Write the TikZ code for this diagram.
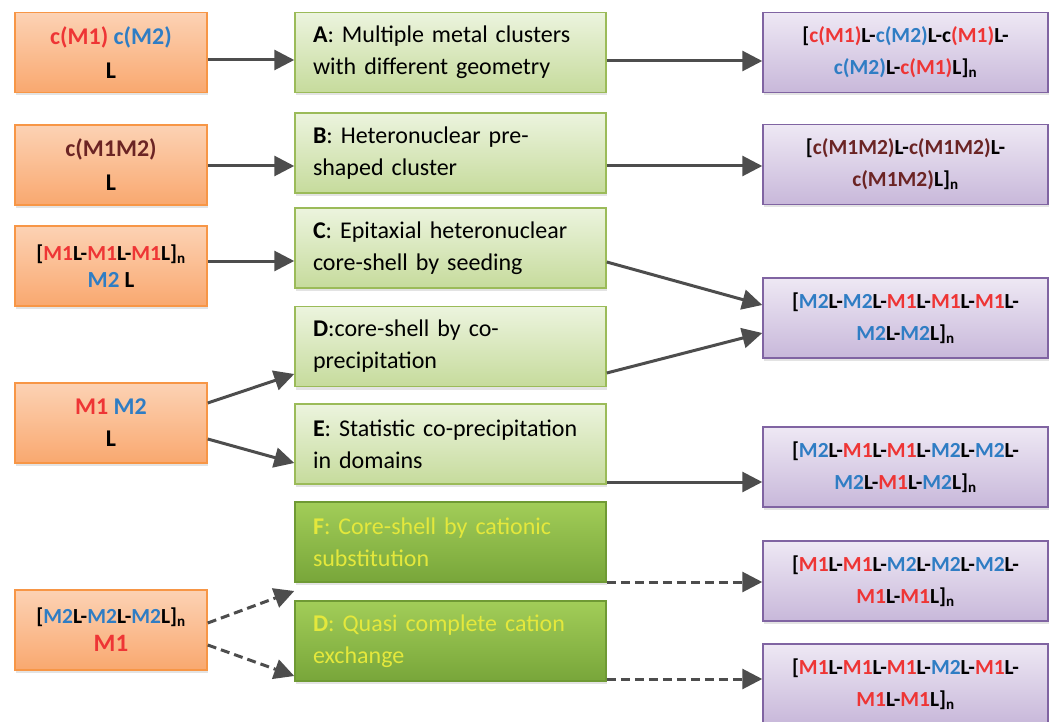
\documentclass[tikz,border=0pt]{standalone}
\usepackage{fontspec}
\setmainfont{Carlito}
\usetikzlibrary{arrows.meta,shadows}
\definecolor{mred}{HTML}{EE3535}
\definecolor{mblue}{HTML}{2F7DC4}
\definecolor{mbrown}{HTML}{6B2424}
\definecolor{fyel}{HTML}{E4E83C}
\definecolor{arr}{HTML}{4D4D4D}
\definecolor{orB}{HTML}{F79646}
\definecolor{orT}{HTML}{FCD2B4}
\definecolor{orD}{HTML}{F9A86F}
\definecolor{grB}{HTML}{9BBB59}
\definecolor{grT}{HTML}{ECF4DE}
\definecolor{grD}{HTML}{C6DB9C}
\definecolor{dgB}{HTML}{6F9A34}
\definecolor{dgT}{HTML}{A2CD58}
\definecolor{dgD}{HTML}{78A63A}
\definecolor{puB}{HTML}{8064A2}
\definecolor{puT}{HTML}{EEE8F4}
\definecolor{puD}{HTML}{C8B8DA}
\newcommand\rM{\textcolor{mred}{M1}}
\newcommand\bM{\textcolor{mblue}{M2}}
\newcommand\rC{\textcolor{mred}{c(M1)}}
\newcommand\bC{\textcolor{mblue}{c(M2)}}
\newcommand\brC{\textcolor{mbrown}{c(M1M2)}}
\newcommand\subn{\textsubscript{n}}
\tikzset{
  box/.style={draw, line width=1.5pt, minimum height=80pt, inner sep=0pt,
    drop shadow={shadow xshift=1pt,shadow yshift=-3pt,opacity=0.22}},
  srcbox/.style={box, draw=orB, top color=orT, bottom color=orD,
    minimum width=192pt, align=center, font=\bfseries\fontsize{24}{34}\selectfont},
  procbox/.style={box, draw=grB, top color=grT, bottom color=grD,
    minimum width=311pt, text width=275pt, inner xsep=18pt, align=left,
    font=\fontsize{24}{32}\selectfont},
  dprocbox/.style={procbox, draw=dgB, top color=dgT, bottom color=dgD, text=fyel},
  prodbox/.style={box, draw=puB, top color=puT, bottom color=puD,
    minimum width=285pt, align=center, font=\bfseries\fontsize{21.5}{32}\selectfont},
  conn/.style={draw=arr, line width=3pt, -{Triangle[length=20pt,width=20pt]}},
  dconn/.style={conn, dash pattern=on 9pt off 5pt}
}
\begin{document}
\begin{tikzpicture}[x=1pt,y=-1pt]
\useasboundingbox (0,0) rectangle (1049,722);
% sources
\node[srcbox] (L1) at (111,52.5) {\rC{} \bC\\L};
\node[srcbox] (L2) at (111,165) {\brC\\L};
\node[srcbox, font=\bfseries\fontsize{21.5}{27}\selectfont] (L3) at (111,266)
  {[\rM L-\rM L-\rM L]\subn\\{\fontsize{23}{27}\selectfont\bM{} L}};
\node[srcbox, font=\bfseries\fontsize{24}{32}\selectfont] (L4) at (111,423) {\rM{} \bM\\L};
\node[srcbox, font=\bfseries\fontsize{21.5}{28}\selectfont] (L5) at (111,630)
  {[\bM L-\bM L-\bM L]\subn\\{\fontsize{25}{28}\selectfont\rM}};
% processes
\node[procbox] (A) at (450.5,52.5) {\textbf{A}: Multiple metal clusters\\with different geometry};
\node[procbox] (B) at (450.5,153) {\textbf{B}: Heteronuclear pre-\\shaped cluster};
\node[procbox] (C) at (450.5,248) {\textbf{C}: Epitaxial heteronuclear\\core-shell by seeding};
\node[procbox] (D) at (450.5,346.5) {\textbf{D}:core-shell by co-\\precipitation};
\node[procbox] (E) at (450.5,444) {\textbf{E}: Statistic co-precipitation\\in domains};
\node[dprocbox] (F) at (450.5,542) {\textbf{F}: Core-shell by cationic\\substitution};
\node[dprocbox] (D2) at (450.5,641) {\textbf{D}: Quasi complete cation\\exchange};
% products
\node[prodbox] (R1) at (905.5,52.5) {[\rC L-\bC L-c\textcolor{mred}{(M1)}L-\\\bC L-\rC L]\subn};
\node[prodbox] (R2) at (905.5,164.5) {[\brC L-\brC L-\\\brC L]\subn};
\node[prodbox] (R3) at (905.5,318) {[\bM L-\bM L-\rM L-\rM L-\rM L-\\\bM L-\bM L]\subn};
\node[prodbox] (R4) at (905.5,467) {[\bM L-\rM L-\rM L-\bM L-\bM L-\\\bM L-\rM L-\bM L]\subn};
\node[prodbox] (R5) at (905.5,581) {[\rM L-\rM L-\bM L-\bM L-\bM L-\\\rM L-\rM L]\subn};
\node[prodbox] (R6) at (905.5,684) {[\rM L-\rM L-\rM L-\bM L-\rM L-\\\rM L-\rM L]\subn};
% connectors
\draw[conn] (L1.east |- 0,60) -- (A.west |- 0,60);
\draw[conn] (L2.east |- 0,166) -- (B.west |- 0,166);
\draw[conn] (L3.east |- 0,261) -- (C.west |- 0,261);
\draw[conn] (L4.east |- 0,403) -- (D.west |- 0,374);
\draw[conn] (L4.east |- 0,439) -- (E.west |- 0,463);
\draw[dconn] (L5.east |- 0,623) -- (F.west |- 0,591);
\draw[dconn] (L5.east |- 0,645) -- (D2.west |- 0,676);
\draw[conn] (A.east |- 0,61) -- (R1.west |- 0,61);
\draw[conn] (B.east |- 0,166) -- (R2.west |- 0,166);
\draw[conn] (C.east |- 0,262) -- (R3.west |- 0,305);
\draw[conn] (D.east |- 0,373) -- (R3.west |- 0,333);
\draw[conn] (E.east |- 0,482) -- (R4.west |- 0,482);
\draw[dconn] (F.east |- 0,582) -- (R5.west |- 0,582);
\draw[dconn] (D2.east |- 0,679) -- (R6.west |- 0,679);
\end{tikzpicture}
\end{document}
